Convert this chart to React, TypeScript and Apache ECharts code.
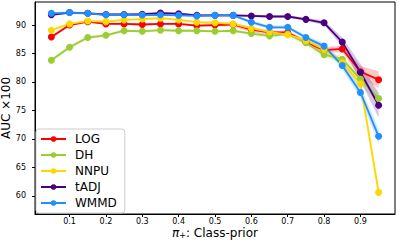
import React, { useEffect, useRef } from "react";
import * as echarts from "echarts";

const priors = [0.05, 0.1, 0.15, 0.2, 0.25, 0.3, 0.35, 0.4, 0.45, 0.5, 0.55, 0.6, 0.65, 0.7, 0.75, 0.8, 0.85, 0.9, 0.95];
const xTicks = [0.1, 0.2, 0.3, 0.4, 0.5, 0.6, 0.7, 0.8, 0.9];
const yTicks = [60, 65, 70, 75, 80, 85, 90];

const names = ["LOG", "DH", "NNPU", "tADJ", "WMMD"];
const colors = ["#ff0000", "#9acd32", "#ffd700", "#4b0082", "#1e90ff"];

const logAuc = [87.9, 90.0, 90.6, 90.2, 90.2, 90.1, 90.2, 90.2, 89.9, 90.0, 90.1, 89.2, 88.7, 88.7, 87.0, 85.6, 85.8, 81.8, 80.4];
const dhAuc = [83.8, 86.1, 87.8, 88.2, 89.0, 88.9, 89.1, 89.0, 89.0, 88.9, 89.0, 88.5, 88.1, 88.4, 86.9, 84.8, 84.0, 80.5, 77.1];
const nnpuAuc = [89.1, 90.2, 90.7, 90.6, 90.9, 91.05, 91.2, 90.9, 90.5, 90.4, 90.2, 89.4, 88.8, 88.3, 87.3, 85.7, 83.4, 79.7, 60.6];
const tadjAuc = [91.8, 92.2, 92.06, 91.85, 91.85, 91.9, 92.1, 92.0, 91.7, 91.7, 91.7, 91.6, 91.5, 91.5, 91.0, 90.4, 87.0, 81.7, 75.9];
const wmmdAuc = [92.06, 92.2, 92.06, 91.8, 91.8, 91.76, 91.8, 91.7, 91.6, 91.7, 91.7, 90.5, 89.6, 89.6, 87.8, 86.3, 82.9, 78.15, 70.45];

const logStd = [0.3, 0.2, 0.2, 0.2, 0.2, 0.2, 0.2, 0.2, 0.2, 0.3, 0.3, 0.5, 0.4, 0.3, 0.4, 0.5, 0.6, 1.0, 1.5];
const dhStd = [0.3, 0.3, 0.3, 0.3, 0.2, 0.2, 0.2, 0.2, 0.2, 0.2, 0.2, 0.3, 0.3, 0.3, 0.4, 0.5, 0.6, 1.0, 1.0];
const nnpuStd = [0.2, 0.2, 0.2, 0.2, 0.2, 0.2, 0.2, 0.2, 0.2, 0.2, 0.2, 0.2, 0.2, 0.3, 0.3, 0.4, 0.5, 0.8, 1.2];
const tadjStd = [0.2, 0.2, 0.2, 0.2, 0.2, 0.2, 0.2, 0.2, 0.2, 0.2, 0.2, 0.2, 0.2, 0.2, 0.3, 0.4, 0.8, 1.5, 2.2];
const wmmdStd = [0.2, 0.2, 0.2, 0.2, 0.2, 0.2, 0.2, 0.2, 0.2, 0.2, 0.2, 0.3, 0.3, 0.3, 0.4, 0.5, 0.7, 1.0, 1.3];

const allAuc = [logAuc, dhAuc, nnpuAuc, tadjAuc, wmmdAuc];
const allStd = [logStd, dhStd, nnpuStd, tadjStd, wmmdStd];

const FONT = "DejaVu Sans";

export default function App() {
  const ref = useRef<HTMLDivElement>(null);
  useEffect(() => {
    if (!ref.current) return;
    const chart = echarts.init(ref.current, null, { renderer: "svg" });
    const bands = names.map((n, k) => ({
      name: n + "-band",
      type: "custom",
      silent: true,
      clip: true,
      z: 1,
      data: priors.map((x, i) => [x, allAuc[k][i]]),
      encode: { x: 0, y: 1 },
      renderItem: (params: any, api: any) => {
        if (params.dataIndex !== 0) return null;
        const upper = priors.map((x, i) => api.coord([x, allAuc[k][i] + allStd[k][i]]));
        const lower = priors.map((x, i) => api.coord([x, allAuc[k][i] - allStd[k][i]])).reverse();
        return {
          type: "polygon",
          shape: { points: upper.concat(lower) },
          style: { fill: colors[k], opacity: 0.22 },
        };
      },
    }));
    const lines = names.map((n, k) => ({
      name: n,
      type: "line",
      z: 3,
      data: priors.map((x, i) => [x, allAuc[k][i]]),
      symbol: "circle",
      symbolSize: 7,
      lineStyle: { color: colors[k], width: 1.8 },
      itemStyle: { color: colors[k] },
    }));
    chart.setOption({
      animation: false,
      grid: {
        left: 35,
        right: 4,
        top: 2,
        bottom: 28,
        containLabel: false,
        outerBoundsMode: "none",
        show: true,
        borderColor: "#000",
        borderWidth: 1,
        backgroundColor: "transparent",
      },
      legend: {
        data: names,
        orient: "vertical",
        left: 36,
        top: 129,
        itemWidth: 25,
        itemHeight: 7,
        itemGap: 2,
        padding: [3, 8, 3, 4],
        backgroundColor: "#fff",
        borderColor: "#ccc",
        borderWidth: 1,
        borderRadius: 3,
        textStyle: { fontFamily: FONT, fontSize: 12, color: "#000", lineHeight: 14, padding: [0, 0, 0, 4] },
      },
      xAxis: {
        type: "value",
        min: 0.005,
        max: 0.995,
        axisLine: { show: true, lineStyle: { color: "#000", width: 1 } },
        axisTick: { show: true, length: 3, lineStyle: { color: "#000" }, customValues: xTicks },
        axisLabel: {
          fontFamily: FONT,
          fontSize: 8,
          color: "#000",
          margin: 3,
          customValues: xTicks,
          formatter: (v: number) => v.toFixed(1),
        },
        splitLine: { show: false },
        name: "{pi|π}{sub|+}{t|: Class-prior}",
        nameLocation: "middle",
        nameGap: 12,
        nameMoveOverlap: false,
        nameTextStyle: {
          fontFamily: FONT,
          fontSize: 12,
          color: "#000",
          rich: {
            pi: { fontFamily: FONT, fontSize: 12, fontStyle: "italic", color: "#000" },
            sub: { fontFamily: FONT, fontSize: 8, color: "#000", verticalAlign: "bottom", padding: [5, 0, 0, 0] },
            t: { fontFamily: FONT, fontSize: 12, color: "#000" },
          },
        },
      },
      yAxis: {
        type: "value",
        min: 56.8,
        max: 94.05,
        axisLine: { show: true, lineStyle: { color: "#000", width: 1 } },
        axisTick: { show: true, length: 3, lineStyle: { color: "#000" }, customValues: yTicks },
        axisLabel: {
          fontFamily: FONT,
          fontSize: 8,
          color: "#000",
          margin: 9,
          customValues: yTicks,
        },
        splitLine: { show: false },
        name: "AUC ×100",
        nameLocation: "middle",
        nameRotate: 90,
        nameGap: 23,
        nameMoveOverlap: false,
        nameTextStyle: { fontFamily: FONT, fontSize: 12, color: "#000" },
      },
      series: [...bands, ...lines],
    });
    return () => chart.dispose();
  }, []);
  return (
    <div
      ref={ref}
      style={{ position: "absolute", left: 0, top: 0, width: 399, height: 242, background: "#fff" }}
    />
  );
}
